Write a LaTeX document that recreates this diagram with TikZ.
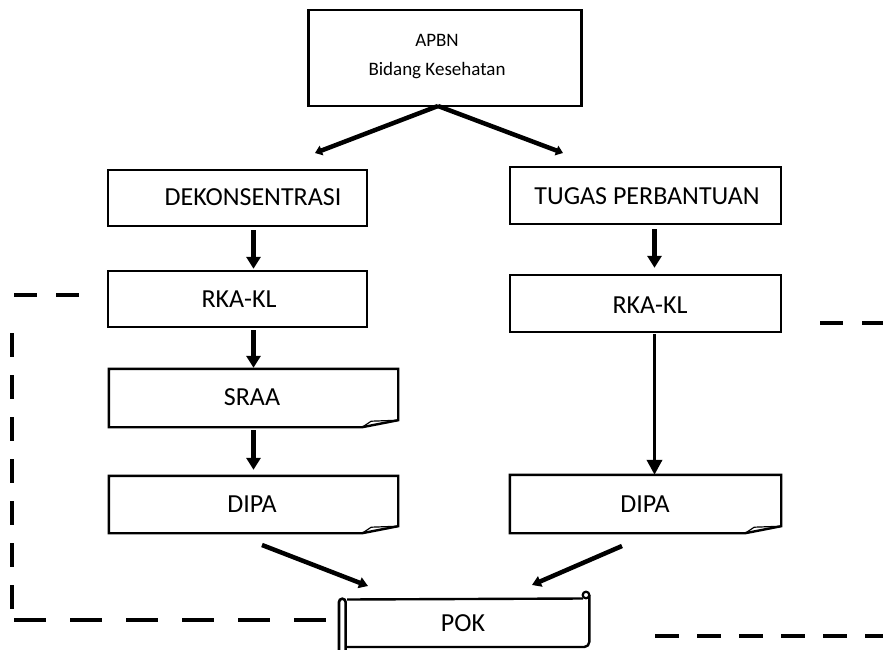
\documentclass[tikz,border=0pt]{standalone}
\usepackage{fontspec}
\setmainfont{Carlito}
\usetikzlibrary{arrows.meta,calc}

% outline of a box whose bottom right corner is folded up
\newcommand{\foldbox}[1]{%
  \draw[line width=2.4pt, line join=miter]
    (#1.north west) -- (#1.north east) -- ($(#1.south east)+(0,-7)$)
    -- ($(#1.south east)+(-36,0)$) -- (#1.south west) -- cycle;
  \draw[line width=1.2pt]
    ($(#1.south east)+(-36,0)$) -- ($(#1.south east)+(-27,-6)$) -- ($(#1.south east)+(0,-7)$);
}

\begin{document}
\begin{tikzpicture}[x=1pt,y=-1pt,
  box/.style={draw, line width=2.4pt, rectangle, inner sep=0pt},
  area/.style={rectangle, inner sep=0pt},
  lbl/.style={font=\fontsize{26}{30}\selectfont, inner sep=0pt, anchor=center},
  toplbl/.style={font=\fontsize{19}{23}\selectfont, inner sep=0pt, anchor=center},
  flow/.style={line width=4.5pt, -{Triangle[length=12pt,width=14pt]}},
  longflow/.style={line width=3.6pt, -{Triangle[length=15pt,width=15pt]}},
  split/.style={line width=4.5pt, -{Triangle[length=7pt,width=10pt]}},
  merge/.style={line width=4.5pt, -{Triangle[length=9pt,width=11pt]}},
  guide/.style={line width=4pt},
]
\useasboundingbox (0,0) rectangle (883,650);

% boxes
\node[box, minimum width=273pt, minimum height=96pt] (apbn) at (445,58) {};
\node[box, minimum width=259pt, minimum height=56pt] (dek) at (237.5,198) {};
\node[box, minimum width=271pt, minimum height=57pt] (tp) at (645.5,195.5) {};
\node[box, minimum width=259pt, minimum height=56pt] (rkal) at (237.5,299) {};
\node[box, minimum width=271pt, minimum height=57pt] (rkar) at (645.5,303.5) {};
\node[area, minimum width=289pt, minimum height=58pt] (sraa) at (253.5,398) {};
\node[area, minimum width=289pt, minimum height=57pt] (dipal) at (253.5,504.5) {};
\node[area, minimum width=271pt, minimum height=58pt] (dipar) at (645.5,504) {};
\node[area, minimum width=243pt, minimum height=47pt] (pok) at (466.5,623.5) {};
\foldbox{sraa}
\foldbox{dipal}
\foldbox{dipar}

% scroll outline around POK
\draw[line width=2.4pt, line join=round]
  (347,599.5) -- (583,598.5);
\draw[line width=2.2pt]
  (586,595) circle [radius=3.3pt];
\draw[line width=2.4pt, line join=round]
  (589.3,595) -- (589.3,642) arc[start angle=0, end angle=-90, radius=5pt] -- (347,647);
\draw[line width=2.6pt]
  (339,652) -- (339,602) arc[start angle=180, end angle=0, radius=3.3pt] -- (345.6,652);

% labels
\node[toplbl] (t1) at (437,40) {APBN};
\node[toplbl] (t2) at (437,71) {Bidang Kesehatan};
\node[lbl] (t3) at (253,197) {DEKONSENTRASI};
\node[lbl] (t4) at (647,196) {TUGAS PERBANTUAN};
\node[lbl] (t5) at (239,299) {RKA-KL};
\node[lbl] (t6) at (650,305) {RKA-KL};
\node[lbl] (t7) at (252,397) {SRAA};
\node[lbl] (t8) at (252,504) {DIPA};
\node[lbl] (t9) at (645,504) {DIPA};
\node[lbl] (t10) at (463,623) {POK};

% columns of the vertical connectors
\coordinate (lc) at (253.5,0);
\coordinate (rc) at (654.5,0);

% split from the top box
\coordinate (apex) at (438,106);
\coordinate (sl) at (315,153);
\coordinate (sr) at (563,153);
\draw[split] (apex) -- (sl);
\draw[split] (apex) -- (sr);

% left column
\draw[flow] ($(lc |- dek.south)+(0,3)$) -- ($(lc |- rkal.north)+(0,-1)$);
\draw[flow] ($(lc |- rkal.south)+(0,2)$) -- ($(lc |- sraa.north)+(0,-1)$);
\draw[flow] ($(lc |- sraa.south)+(0,3)$) -- ($(lc |- dipal.north)+(0,-6)$);

% right column
\draw[flow] ($(rc |- tp.south)+(0,4)$) -- ($(rc |- rkar.north)+(0,-6)$);
\draw[longflow] ($(rc |- rkar.south)+(0,1)$) -- (rc |- dipar.north);

% merge into POK
\coordinate (ml) at (262,545);
\coordinate (mr) at (622,546);
\coordinate (pl) at (368,586);
\coordinate (pr) at (532,585);
\draw[merge] (ml) -- (pl);
\draw[merge] (mr) -- (pr);

% dashed guide lines
\draw[guide, dash pattern=on 23pt off 19pt] (14,295) -- (79,295);
\draw[guide, dash pattern=on 24pt off 18pt] (12,333) -- (12,611);
\draw[guide, dash pattern=on 32pt off 24pt] (14,620) -- (326,620);
\draw[guide, dash pattern=on 23pt off 19pt] (820,323) -- (883,323);
\draw[guide, dash pattern=on 24pt off 18pt] (655,636) -- (883,636);
\end{tikzpicture}
\end{document}
